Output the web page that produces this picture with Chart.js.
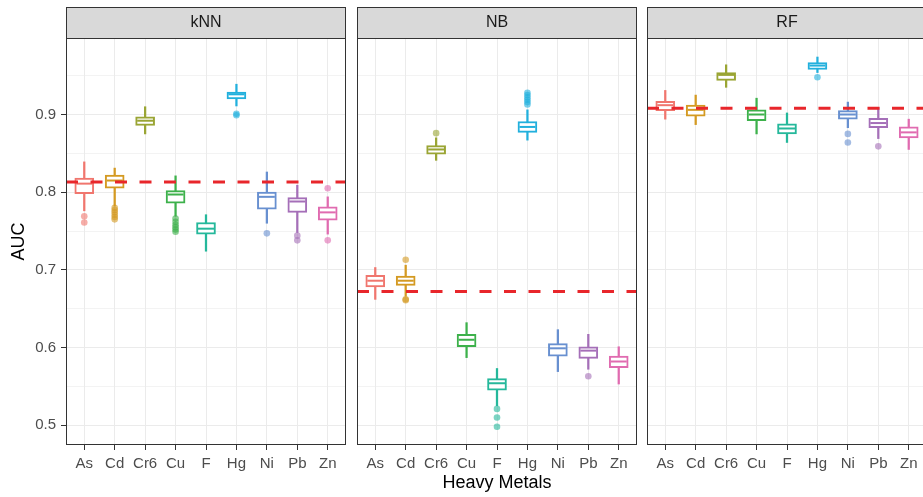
<!DOCTYPE html>
<html>
<head>
<meta charset="utf-8">
<script src="https://cdn.jsdelivr.net/npm/chart.js@4"></script>
<style>
  html, body { margin: 0; padding: 0; background: #fff; overflow: hidden; width: 923px; height: 497px; }
  canvas { position: absolute; top: 0; }
</style>
</head>
<body>
<canvas id="knn" width="350" height="497" style="left:0px"></canvas>
<canvas id="nb" width="288" height="497" style="left:353px"></canvas>
<canvas id="rf" width="290" height="497" style="left:643px"></canvas>
<script>
// kategori logam berat
const metals = ['As', 'Cd', 'Cr6', 'Cu', 'F', 'Hg', 'Ni', 'Pb', 'Zn'];
const metalColors = ['#F0766E', '#D49A22', '#9AA534', '#3DB14B', '#25B89B', '#22B0DD', '#6890D0', '#A56FB8', '#E06BB0'];

// ringkasan boxplot per logam: [whisker bawah, Q1, median, Q3, whisker atas]
const knnStats = [
  [0.776, 0.798, 0.811, 0.818, 0.839],
  [0.782, 0.805, 0.815, 0.822, 0.831],
  [0.875, 0.886, 0.892, 0.897, 0.910],
  [0.769, 0.786, 0.797, 0.802, 0.821],
  [0.724, 0.746, 0.753, 0.761, 0.771],
  [0.911, 0.920, 0.926, 0.929, 0.939],
  [0.760, 0.778, 0.794, 0.800, 0.826],
  [0.748, 0.774, 0.788, 0.793, 0.809],
  [0.746, 0.764, 0.774, 0.781, 0.794]
];
const knnOutliers = [
  [0.769, 0.761],
  [0.780, 0.777, 0.774, 0.771, 0.768, 0.765],
  [],
  [0.766, 0.762, 0.758, 0.755, 0.752, 0.749],
  [],
  [0.901, 0.899],
  [0.747],
  [0.744, 0.738],
  [0.805, 0.738]
];

const nbStats = [
  [0.662, 0.678, 0.686, 0.693, 0.703],
  [0.666, 0.680, 0.686, 0.692, 0.706],
  [0.841, 0.849, 0.855, 0.860, 0.870],
  [0.587, 0.601, 0.610, 0.617, 0.632],
  [0.525, 0.545, 0.554, 0.560, 0.573],
  [0.867, 0.877, 0.884, 0.891, 0.906],
  [0.569, 0.589, 0.599, 0.605, 0.623],
  [0.572, 0.586, 0.596, 0.601, 0.617],
  [0.553, 0.574, 0.582, 0.589, 0.601]
];
const nbOutliers = [
  [],
  [0.713, 0.662, 0.661],
  [0.876],
  [],
  [0.521, 0.510, 0.498],
  [0.928, 0.925, 0.922, 0.919, 0.916, 0.913],
  [],
  [0.563],
  []
];

const rfStats = [
  [0.894, 0.905, 0.912, 0.917, 0.931],
  [0.887, 0.898, 0.906, 0.912, 0.925],
  [0.935, 0.944, 0.951, 0.954, 0.964],
  [0.875, 0.892, 0.900, 0.906, 0.921],
  [0.864, 0.875, 0.882, 0.888, 0.902],
  [0.954, 0.958, 0.963, 0.967, 0.974],
  [0.883, 0.894, 0.900, 0.905, 0.916],
  [0.869, 0.883, 0.889, 0.895, 0.909],
  [0.855, 0.870, 0.877, 0.884, 0.894]
];
const rfOutliers = [
  [], [], [], [], [],
  [0.948],
  [0.875, 0.864],
  [0.859],
  []
];

// garis referensi (putus-putus merah) per model
const refLines = [0.813, 0.672, 0.908];

const yMin = 0.4745;
const yMax = 0.9985;

Chart.defaults.font.family = "'Liberation Sans', Arial, sans-serif";
Chart.defaults.animation = false;

function withAlpha(hex, a) {
  const n = parseInt(hex.slice(1), 16);
  return 'rgba(' + (n >> 16) + ',' + ((n >> 8) & 255) + ',' + (n & 255) + ',' + a + ')';
}

function isMajor(v) {
  return Math.abs(v * 10 - Math.round(v * 10)) < 1e-6;
}

// strip abu-abu dan bingkai panel ala ggplot
const facetFrame = {
  id: 'facetFrame',
  beforeDraw(chart) {
    const { ctx, chartArea: a } = chart;
    ctx.save();
    ctx.fillStyle = '#D9D9D9';
    ctx.fillRect(a.left, 7, a.right - a.left, a.top - 7);
    ctx.strokeStyle = '#333333';
    ctx.lineWidth = 1;
    ctx.strokeRect(a.left + 0.5, 7.5, a.right - a.left - 1, a.top - 7);
    ctx.restore();
  },
  afterDraw(chart) {
    const { ctx, chartArea: a } = chart;
    ctx.save();
    ctx.strokeStyle = '#333333';
    ctx.lineWidth = 1;
    ctx.strokeRect(a.left + 0.5, a.top + 0.5, a.right - a.left - 1, a.bottom - a.top - 1);
    ctx.restore();
  }
};

function buildDatasets(stats, outliers, ref) {
  const outPts = [];
  const outCols = [];
  outliers.forEach((list, i) => {
    list.forEach(v => {
      outPts.push({ x: i, y: v });
      outCols.push(withAlpha(metalColors[i], 0.6));
    });
  });
  return [
    {
      type: 'line',
      data: [{ x: -0.6, y: ref }, { x: 8.6, y: ref }],
      borderColor: '#E8262B',
      borderWidth: 3,
      borderDash: [12, 12.5],
      pointRadius: 0,
      order: 0
    },
    {
      type: 'scatter',
      data: outPts,
      pointBackgroundColor: outCols,
      pointBorderWidth: 0,
      pointRadius: 3.3,
      order: 1
    },
    {
      type: 'scatter',
      data: stats.map((s, i) => ({ x: i, y: s[2] })),
      pointStyle: 'line',
      pointRadius: 8,
      pointBorderWidth: 2,
      pointBorderColor: metalColors,
      order: 2
    },
    {
      type: 'bar',
      data: stats.map((s, i) => ({ x: i, y: [s[1], s[3]] })),
      backgroundColor: '#ffffff',
      borderColor: metalColors,
      borderWidth: 2,
      borderSkipped: false,
      barThickness: 19,
      grouped: false,
      order: 3
    },
    {
      type: 'bar',
      data: stats.map((s, i) => ({ x: i, y: [s[0], s[4]] })),
      backgroundColor: metalColors,
      barThickness: 1.6,
      grouped: false,
      order: 4
    }
  ];
}

function makePanel(id, name, stats, outliers, ref, showY, showXTitle, pad) {
  const ctx = document.getElementById(id).getContext('2d');
  return new Chart(ctx, {
    type: 'bar',
    data: { datasets: buildDatasets(stats, outliers, ref) },
    options: {
      responsive: false,
      layout: { padding: pad, autoPadding: false },
      plugins: {
        legend: { display: false },
        tooltip: { enabled: false },
        title: {
          display: true,
          text: name,
          fullSize: false,
          color: '#1A1A1A',
          font: { size: 16, weight: 'normal', lineHeight: 1.2 },
          padding: { top: 12.5, bottom: 6.3 }
        }
      },
      scales: {
        x: {
          type: 'linear',
          min: -0.6,
          max: 8.6,
          offset: false,
          afterFit: s => {
            s.height = 52;
            s.paddingLeft = 0;
            s.paddingRight = 0;
          },
          ticks: {
            stepSize: 1,
            includeBounds: false,
            autoSkip: false,
            maxRotation: 0,
            padding: 5,
            color: '#4D4D4D',
            font: { size: 15 },
            callback: v => metals[Math.round(v)] || ''
          },
          grid: { color: '#EBEBEB', lineWidth: 1, offset: false, drawTicks: true, tickLength: 5, tickColor: '#333333', tickWidth: 1 },
          border: { display: false },
          title: {
            display: showXTitle,
            text: 'Heavy Metals',
            color: '#000000',
            font: { size: 18 },
            padding: { top: 0, bottom: 3 }
          }
        },
        y: {
          type: 'linear',
          min: yMin,
          max: yMax,
          afterFit: s => {
            s.width = showY ? 66 : 0;
            s.paddingTop = 0;
            s.paddingBottom = 0;
          },
          ticks: {
            display: showY,
            stepSize: 0.05,
            includeBounds: false,
            autoSkip: false,
            padding: 5,
            color: '#4D4D4D',
            font: { size: 15 },
            callback: v => isMajor(v) ? v.toFixed(1) : ''
          },
          grid: {
            color: '#EBEBEB',
            lineWidth: c => isMajor(c.tick.value) ? 1 : 0.6,
            drawTicks: showY,
            tickLength: 5,
            tickWidth: 1,
            tickColor: c => isMajor(c.tick.value) ? '#333333' : 'rgba(0,0,0,0)'
          },
          border: { display: false },
          title: {
            display: showY,
            text: 'AUC',
            color: '#000000',
            font: { size: 18 },
            padding: { top: 8, bottom: 0 }
          }
        }
      }
    },
    plugins: [facetFrame]
  });
}

document.addEventListener('DOMContentLoaded', () => {
  makePanel('knn', 'kNN', knnStats, knnOutliers, refLines[0], true, false, { left: 0, right: 4, top: 0, bottom: 0 });
  makePanel('nb', 'NB', nbStats, nbOutliers, refLines[1], false, true, { left: 4, right: 4, top: 0, bottom: 0 });
  makePanel('rf', 'RF', rfStats, rfOutliers, refLines[2], false, false, { left: 4, right: 6, top: 0, bottom: 0 });
});
</script>
</body>
</html>
